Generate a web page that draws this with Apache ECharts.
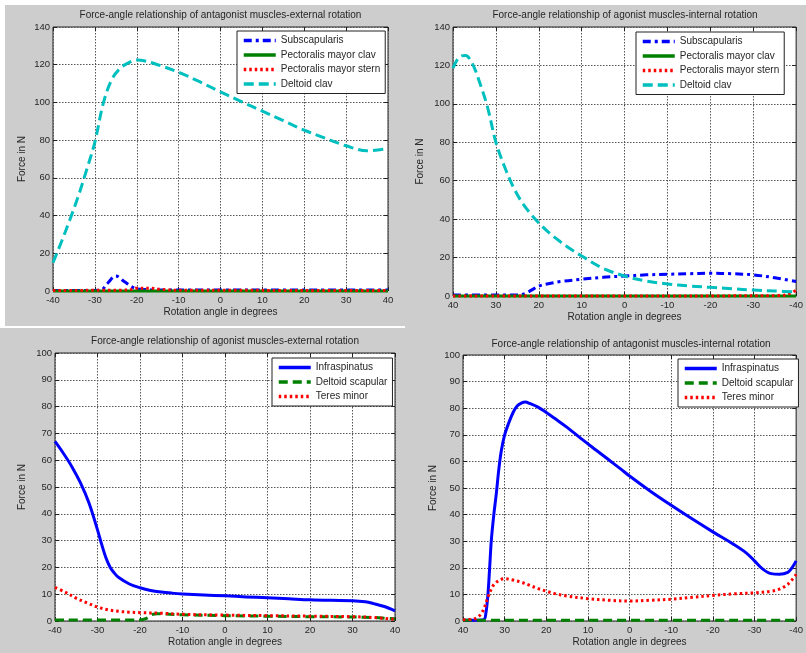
<!DOCTYPE html>
<html>
<head>
<meta charset="utf-8">
<script src="https://cdn.jsdelivr.net/npm/echarts@6/dist/echarts.min.js"></script>
<style>
html, body { margin: 0; padding: 0; background: #cdcdcd; }
#chart { position: absolute; left: 0; top: 0; width: 806px; height: 653px; }
.strip { position: absolute; background: #ffffff; }
</style>
</head>
<body>
<div class="strip" style="left:0;top:0;width:806px;height:5px"></div>
<div class="strip" style="left:0;top:0;width:5px;height:326px"></div>
<div class="strip" style="left:0;top:326px;width:405px;height:2px"></div>
<div id="chart"></div>
<script>
// ---------- Panel A: antagonist muscles, external rotation ----------
const angA_subscap = [-40, -30, -28.5, -27, -25, -23, -21, -20, -18, -15, 0, 40];
const forceA_subscap = [0.3, 0.3, 0.5, 4, 8, 5, 2, 1.2, 0.8, 0.5, 0.5, 0.5];
const angA_pecClav = [-40, 0, 40];
const forceA_pecClav = [0, 0, 0];
const angA_pecStern = [-40, -22, -20, -17, -14, -10, 40];
const forceA_pecStern = [0.3, 0.5, 1.5, 1.5, 0.8, 0.4, 0.3];
const angA_deltClav = [-40, -38, -36, -34, -32, -30, -28, -26, -24, -22, -20, -18, -15, -10, -5, 0, 5, 10, 15, 20, 25, 30, 35, 40];
const forceA_deltClav = [15, 26, 37.6, 50, 64, 79, 99.5, 112, 118, 121, 122.5, 122, 120, 116, 111, 105.6, 100.4, 95.4, 90.3, 85.3, 81, 77, 74.4, 75.5];

// ---------- Panel B: agonist muscles, internal rotation ----------
const angB_subscap = [40, 30, 25, 23, 21, 20, 17.5, 15, 10, 5, 0, -5, -10, -15, -20, -25, -30, -35, -40];
const forceB_subscap = [0.5, 0.5, 0.5, 1.5, 4, 5.2, 6.5, 7.5, 8.7, 9.7, 10.4, 11, 11.3, 11.6, 11.8, 11.6, 11, 9.5, 7.5];
const angB_pecClav = [40, 0, -40];
const forceB_pecClav = [0, 0, 0];
const angB_pecStern = [40, 0, -36, -38, -40];
const forceB_pecStern = [0, 0, 0.2, 0.8, 3];
const angB_deltClav = [40, 39, 38, 37, 36, 35, 34, 32, 30, 28, 26, 24, 22, 20, 17.5, 15, 12.5, 10, 5, 0, -5, -10, -15, -20, -25, -30, -35, -40];
const forceB_deltClav = [118.6, 123, 125, 125.2, 123, 118.6, 112.6, 98.7, 80, 67.4, 57, 49, 43, 38, 32.7, 28.3, 24.3, 20.8, 14.4, 10.4, 7.8, 6.3, 5.2, 4.5, 3.8, 3.1, 2.6, 2.1];

// ---------- Panel C: agonist muscles, external rotation ----------
const angC_infra = [-40, -38, -36, -34, -32, -30, -29, -28, -27, -26, -25, -22.5, -20, -17.5, -15, -12.5, -10, -5, 0, 5, 10, 15, 20, 25, 30, 33, 35, 37.5, 40];
const forceC_infra = [67, 62.5, 57.5, 51.5, 44, 34, 28.5, 23.5, 20, 17.8, 16.2, 13.8, 12.4, 11.4, 10.8, 10.4, 10.1, 9.7, 9.4, 9, 8.7, 8.3, 7.9, 7.7, 7.6, 7.2, 6.5, 5.4, 3.8];
const angC_deltScap = [-40, -20, -18.5, -17, -16, -10, 0, 10, 20, 30, 35, 40];
const forceC_deltScap = [0.4, 0.4, 1, 2.5, 2.7, 2.3, 2, 1.8, 1.6, 1.5, 1.3, 0.8];
const angC_teres = [-40, -37.5, -35, -32.5, -30, -27.5, -25, -22.5, -20, -15, -10, 0, 10, 20, 30, 35, 40];
const forceC_teres = [12.5, 10.7, 8.5, 6.8, 5.2, 4.2, 3.6, 3.3, 3.1, 2.9, 2.5, 2.2, 2, 1.8, 1.6, 1.3, 0.6];

// ---------- Panel D: antagonist muscles, internal rotation ----------
const angD_infra = [40, 37, 35, 34.5, 34, 33.6, 33.2, 32.6, 32, 31.4, 30.8, 30, 29, 28, 27, 26, 25, 24, 22, 20, 18, 15, 11, 8, 5, 2, 0, -5, -10, -15, -20, -25, -28, -30, -32, -34, -36, -38, -39, -40];
const forceD_infra = [0.3, 0.3, 0.5, 3, 10.3, 20, 30.3, 40, 47.9, 57, 64, 70, 74.5, 78.3, 80.8, 81.9, 82.3, 81.8, 80.4, 78.4, 76.2, 72.8, 67.8, 64.2, 60.6, 57, 54.5, 48.8, 43.5, 38.4, 33.5, 28.8, 25.6, 22.6, 19.5, 17.8, 17.6, 18.3, 20, 22.6];
const angD_deltScap = [40, 0, -40];
const forceD_deltScap = [0.3, 0.3, 0.3];
const angD_teres = [40, 37.5, 36.4, 35.5, 34.8, 34, 33.2, 32.4, 31, 30, 28, 26, 24, 22, 20, 18, 15, 10, 5, 0, -5, -10, -15, -20, -25, -30, -34, -36, -38, -40];
const forceD_teres = [0.5, 0.7, 1.5, 3, 5.3, 9, 12, 14, 15.5, 15.9, 15.4, 14.6, 13.4, 12.2, 11.2, 10.3, 9.4, 8.4, 7.8, 7.5, 7.8, 8.2, 8.9, 9.6, 10.2, 10.6, 11.2, 12, 13.8, 17.5];

// ---------- Axis ticks and texts ----------
const titles = [
  'Force-angle relationship of antagonist muscles-external rotation',
  'Force-angle relationship of agonist muscles-internal rotation',
  'Force-angle relationship of agonist muscles-external rotation',
  'Force-angle relationship of antagonist muscles-internal rotation'
];
const xTitle = 'Rotation angle in degrees';
const yTitle = 'Force in N';
const namesTop = ['Subscapularis', 'Pectoralis mayor clav', 'Pectoralis mayor stern', 'Deltoid clav'];
const namesBottom = ['Infraspinatus', 'Deltoid scapular', 'Teres minor'];

const FONT = 'Liberation Sans, Arial, sans-serif';
const TXT = '#262626';
const BLUE = '#0000ff', GREEN = '#008000', RED = '#ff0000', CYAN = '#00bfbf';
const styles = {
  'Subscapularis': { color: BLUE, type: [8, 4, 3, 4] },
  'Pectoralis mayor clav': { color: GREEN, type: 'solid' },
  'Pectoralis mayor stern': { color: RED, type: [2.5, 3] },
  'Deltoid clav': { color: CYAN, type: [10, 5] },
  'Infraspinatus': { color: BLUE, type: 'solid' },
  'Deltoid scapular': { color: GREEN, type: [9, 5] },
  'Teres minor': { color: RED, type: [2.5, 3] }
};

const panels = [
  { grid: { left: 53, top: 27, width: 335, height: 264 }, inverse: false, yMax: 140, yStep: 20, nameGap: 26,
    title: [220.5, 15], legend: { left: 237, top: 31 },
    series: [[namesTop[0], angA_subscap, forceA_subscap], [namesTop[1], angA_pecClav, forceA_pecClav],
             [namesTop[2], angA_pecStern, forceA_pecStern], [namesTop[3], angA_deltClav, forceA_deltClav]] },
  { grid: { left: 453, top: 27, width: 347, height: 269 }, inverse: true, yMax: 140, yStep: 20, nameGap: 28,
    title: [625, 15], legend: { left: 636, top: 32 },
    series: [[namesTop[0], angB_subscap, forceB_subscap], [namesTop[1], angB_pecClav, forceB_pecClav],
             [namesTop[2], angB_pecStern, forceB_pecStern], [namesTop[3], angB_deltClav, forceB_deltClav]] },
  { grid: { left: 55, top: 353, width: 340, height: 268 }, inverse: false, yMax: 100, yStep: 10, nameGap: 28,
    title: [225, 341], legend: { left: 272, top: 358 },
    series: [[namesBottom[0], angC_infra, forceC_infra], [namesBottom[1], angC_deltScap, forceC_deltScap],
             [namesBottom[2], angC_teres, forceC_teres]] },
  { grid: { left: 463, top: 355, width: 337, height: 266 }, inverse: true, yMax: 100, yStep: 10, nameGap: 25,
    title: [631, 344], legend: { left: 678, top: 359 },
    series: [[namesBottom[0], angD_infra, forceD_infra], [namesBottom[1], angD_deltScap, forceD_deltScap],
             [namesBottom[2], angD_teres, forceD_teres]] }
];

const grid = [], xAxis = [], yAxis = [], series = [], legend = [], graphic = [];
const gridLine = { show: true, lineStyle: { color: '#555', type: [1.5, 1.5], width: 1 } };
const tick = { show: true, inside: true, length: 4, lineStyle: { color: '#222' } };
const noLine = { show: false, onZero: false };

panels.forEach((p, i) => {
  grid.push(Object.assign({ show: true, backgroundColor: '#ffffff', borderColor: '#222', borderWidth: 1 }, p.grid));
  const xBase = { type: 'value', gridIndex: i, min: -40, max: 40, interval: 10, inverse: p.inverse };
  xAxis.push(Object.assign({}, xBase, {
    position: 'bottom', axisLine: noLine, axisTick: tick, splitLine: gridLine,
    axisLabel: { color: TXT, fontSize: 9.5, fontFamily: FONT, margin: 4 },
    name: xTitle, nameLocation: 'middle', nameGap: 16,
    nameTextStyle: { color: TXT, fontSize: 10, fontFamily: FONT }
  }));
  xAxis.push(Object.assign({}, xBase, {
    position: 'top', axisLine: noLine, axisTick: tick, splitLine: { show: false }, axisLabel: { show: false }
  }));
  const yBase = { type: 'value', gridIndex: i, min: 0, max: p.yMax, interval: p.yStep };
  yAxis.push(Object.assign({}, yBase, {
    position: 'left', axisLine: noLine, axisTick: tick, splitLine: gridLine,
    axisLabel: { color: TXT, fontSize: 9.5, fontFamily: FONT, margin: 3 },
    name: yTitle, nameLocation: 'middle', nameGap: p.nameGap,
    nameTextStyle: { color: TXT, fontSize: 10, fontFamily: FONT }
  }));
  yAxis.push(Object.assign({}, yBase, {
    position: 'right', axisLine: noLine, axisTick: tick, splitLine: { show: false }, axisLabel: { show: false }
  }));

  p.series.forEach(([name, ang, force]) => {
    const st = styles[name];
    series.push({
      name, type: 'line', xAxisIndex: 2 * i, yAxisIndex: 2 * i,
      data: ang.map((a, k) => [a, force[k]]),
      symbol: 'none', smooth: 0.35, clip: false,
      lineStyle: { color: st.color, width: 3, type: st.type, cap: 'butt', join: 'round' },
      itemStyle: { color: st.color },
      emphasis: { disabled: true }, animation: false
    });
  });

  legend.push({
    data: p.series.map(s => s[0]),
    orient: 'vertical', left: p.legend.left, top: p.legend.top,
    backgroundColor: '#ffffff', borderColor: '#222', borderWidth: 1, borderRadius: 0,
    padding: [4, 5, 4, 5], itemGap: 3.5, itemWidth: 32, itemHeight: 11,
    itemStyle: { color: 'transparent', borderColor: 'transparent', borderWidth: 0, opacity: 0 },
    lineStyle: { width: 3.5 },
    textStyle: { color: TXT, fontSize: 10, fontFamily: FONT, lineHeight: 11 },
    selectedMode: false
  });

  graphic.push({
    type: 'text', x: p.title[0], y: p.title[1],
    style: { text: titles[i], align: 'center', verticalAlign: 'middle', fill: TXT, fontSize: 10, fontFamily: FONT }
  });
});

const chart = echarts.init(document.getElementById('chart'), null, { renderer: 'canvas' });
chart.setOption({ animation: false, backgroundColor: 'transparent', grid, xAxis, yAxis, series, legend, graphic });
</script>
</body>
</html>
